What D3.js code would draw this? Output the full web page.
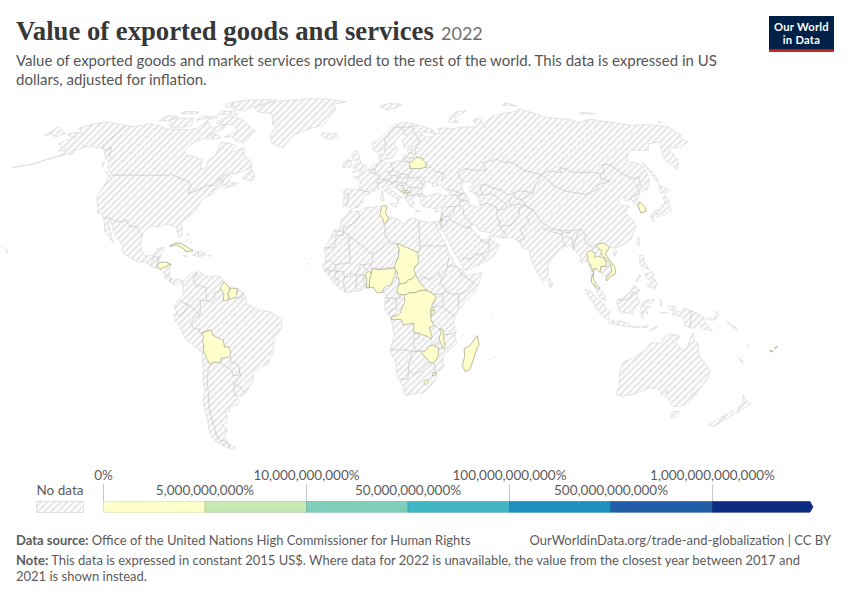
<!DOCTYPE html>
<html><head><meta charset="utf-8">
<script src="https://cdn.jsdelivr.net/npm/d3@7"></script>
<style>html,body{margin:0;background:#fff}svg{display:block}text{font-family:Lato,"Noto Sans",sans-serif}</style>
</head><body><svg id="c" width="850" height="600"></svg>
<script>
// ---- chart text ----
const titleText = "Value of exported goods and services";
const yearText = "2022";
const subtitleLines = ["Value of exported goods and market services provided to the rest of the world. This data is expressed in US","dollars, adjusted for inflation."];
const sourceLabel = "Data source:";
const sourceText = "Office of the United Nations High Commissioner for Human Rights";
const creditText = "OurWorldinData.org/trade-and-globalization | CC BY";
const noteLines = [["Note:"," This data is expressed in constant 2015 US$. Where data for 2022 is unavailable, the value from the closest year between 2017 and"],["","2021 is shown instead."]];

// ---- legend ----
const legendLabels = ["0%","5,000,000,000%","10,000,000,000%","50,000,000,000%","100,000,000,000%","500,000,000,000%","1,000,000,000,000%"];
const binColors = ["#ffffcc","#c7e9b4","#7fcdbb","#41b6c4","#1d91c0","#225ea8","#0c2c84"];

const dataCountries = ["Cuba","Honduras","Guyana","Suriname","Bolivia","Tunisia","Belarus","Kosovo","Montenegro","Palestine","Chad","Nigeria","Benin","Central African Republic","DR Congo","Burundi","Malawi","Zimbabwe","Eswatini","Lesotho","Madagascar","South Korea","Thailand","Vietnam","Fiji","Fiji"];
const dataBand = 0; // every coloured country sits in the first band of the legend
const dataRings = [
"-84.9,21.9 -82.5,23.1 -80,23 -77,21.6 -74.2,20.2 -77.7,19.9 -78,20.7 -80,21.8 -82,22.4",
"-88.3,15.7 -85.5,15.9 -83.2,15 -84.7,14.7 -85,14 -86.7,13.8 -87.3,13 -87.8,13.4 -89.3,14.4",
"-60,8.4 -57.2,6 -57.2,5.2 -58,4 -57.5,1.9 -59,1.3 -60,1.3 -59.8,4 -60.7,5.2 -61.4,5.9",
"-57.2,6 -54,5.9 -54.3,3.5 -54.7,2.4 -56,2 -57.5,1.9 -58,4 -57.2,5.2",
"-69.5,-11 -65.4,-9.8 -65,-11.8 -62,-13.2 -60.5,-13.8 -60.2,-16.3 -58.3,-16.3 -57.6,-18.2 -58.2,-20 -62.2,-20.6 -62.6,-22.2 -65.7,-22.1 -67.2,-22.8 -68.5,-20.5 -69.5,-17.5 -69,-16.2 -69.5,-14 -68.9,-12.5",
"9,37.2 9.8,37.3 11,37 10.2,34.3 11,33.2 11.5,32.4 10,30.4 9.5,30.2 9,32.2 7.5,33.7 8.3,35.5 8.5,36.9",
"23.6,51.6 23.9,52.7 23.4,54 25,54.2 26.6,55.7 28.2,56.1 30.9,55.6 31,54.7 32.7,53.4 31.5,53.1 31.7,52.1 28,51.6 24,51.7",
"20.1,42.6 20.9,43.2 21.7,42.6 21.1,42.1 20.5,42.1",
"18.5,42.5 18.9,43.3 19.5,43.2 20.1,42.8 19.7,42.5 19.3,41.9",
"35,32.5 35.5,32.4 35.5,31.5 34.9,31.4",
"15,23 24,19.5 24,15.7 22.5,14 22,12.7 22.8,11 21,9.5 19.2,9 18.5,8 15.5,7.5 15.5,9.9 14.2,10 14.9,10.9 15,12 14,13 13.5,14 15.3,17.5 15.9,20.4",
"2.7,6.3 4.5,6.3 6,4.3 8.5,4.5 8.7,5.7 10.5,7 11.8,6.9 13.7,10.9 14.2,12.5 14,13 13.6,13.7 10.5,13.3 7,13 4.2,13.5 3.6,11.7 2.8,9",
"1.6,6.2 2.7,6.3 2.8,9 3.6,11.7 2.3,12.4 0.9,11 1.6,9.5",
"14.5,5 15.5,7.5 18.5,8 19.2,9 21,9.5 22.8,11 24,8.7 27.4,5.1 25,5.2 22.5,4.3 20,4.3 18.6,3.5 16.5,3.5 15,4",
"12.2,-6 13,-5.8 16.5,-5.9 17.5,-7.9 21.8,-7.3 22,-11 24,-11 25.5,-11.7 28,-12.3 29.7,-13.4 29.8,-12.2 28.5,-9 30.7,-8.2 29.2,-6 29.2,-3.5 28.9,-2.4 29.6,-1.4 29.7,0 30.8,1.5 31.2,2.4 30.8,3.5 29,4.4 27.4,5.1 25,5.2 22.5,4.3 20,4.3 18.6,3.5 17.7,3.6 18,1 17,-1 16,-3.5 15,-4.3 13,-4.7 12.2,-5",
"29,-2.7 30.5,-2.4 30.8,-3.3 29.4,-4.4",
"33,-9.5 34.3,-9.5 34.9,-11.6 34.6,-12 35.2,-14.5 35.8,-16 35.2,-17 34.3,-15.8 33.3,-14 33,-12.5 33.8,-11",
"25.3,-17.8 27,-17.9 29,-15.8 30.4,-15.7 32.9,-16.7 32.8,-20 31.3,-22.4 29.4,-22.2 27.8,-20.5 26,-19.2",
"31,-25.8 32,-26 32,-27 31,-27.3 30.7,-26.6",
"27,-29.6 28.5,-28.6 29.4,-29.5 28,-30.6",
"49.3,-12 50.4,-15.5 49.5,-17 47.2,-24.8 45.2,-25.6 43.7,-23.5 44.4,-20 44,-17 46.5,-15.7",
"126.7,37.8 126.5,37.3 126.3,34.5 129,35.2 129.4,37 128.4,38.6",
"100.1,20.3 100.5,19.5 101.2,19.5 101,17.5 102.1,18.2 104.7,17.5 105.6,15.7 105.2,14.3 103,14.2 102.5,12 100.9,13.5 100,13.4 99.2,10 100.5,7 102,6.2 101,5.7 100,6.5 98.3,8.3 98.6,10 99.6,11.8 98.4,15.5 97.5,16.5 98,18 97.5,18.5 98,19.8",
"102.2,22.4 105.5,23.2 108,21.6 105.7,19 109,14 109.2,11.6 106.7,10.4 105,8.7 105,10 106.2,11 107.5,12.3 107.5,14.7 106.5,16.5 104.2,18.5 103.9,19.3 104.5,20.4 102.9,21",
"177.3,-17.6 178.6,-17.8 178.2,-18.2 177.3,-18",
"178.7,-16.8 180,-16 179.5,-16.7"
];

// ---- land outlines, lon,lat ----
const landRings = [
// North and Central America
"-141,69.6 -148,70.4 -156.5,71.3 -162,70 -166.5,68.4 -163,67 -161.5,66.3 -165,66.5 -168,65.6 -164,64.6 -161,64.5 -165,63 -166,61.6 -162,59.9 -162,58.7 -157.5,58.8 -158,57 -164.5,54.7 -160,55.8 -156,57.3 -153.5,59 -151.8,59.3 -150,60 -148,60.8 -146,60.8 -144,60 -140,59.8 -137,58.5 -135,57 -133,55.5 -130.5,54.7 -128,52 -125,50 -122.8,49 -124.5,48.3 -124,46 -124.3,43 -124.2,40.4 -122.5,37.8 -120.6,34.5 -118.4,34 -117.1,32.5 -115.8,30.5 -114.9,27.8 -112.5,26 -109.7,23 -110.5,24.5 -112.8,28.5 -114.7,31.5 -113,31.2 -111,28 -109.3,25.7 -106.5,23.2 -105.3,21.5 -105.5,20 -103.5,18.5 -100,17 -96.5,15.7 -94.5,16.2 -92.2,14.5 -90,13.7 -87.5,13 -85.7,11 -85.7,10 -84,9.3 -83,8.2 -81.5,7.5 -80,7.3 -79,9 -77.8,7.2 -77.3,8.6 -79.5,9.6 -81.5,9 -83,10 -83.7,11 -83.5,14 -83.2,15 -85.5,15.9 -88.3,15.7 -88.3,18.4 -87.5,20 -87,21.5 -90.3,21 -90.7,19.3 -92,18.6 -94.5,18.2 -96,19 -97.5,22 -97.7,25.9 -97.2,27.8 -94.5,29.5 -90,29.2 -89.2,30.3 -85,29.7 -83,29 -82.7,27.7 -81.2,25.2 -80.1,25.8 -80.5,28.2 -81.4,30.6 -79.2,33 -75.6,35.2 -76.2,37 -75.2,38.2 -74,40.5 -70,41.6 -70.7,43 -67,44.8 -64.5,45.2 -66,43.7 -61,45.3 -60,46.3 -61.5,45.9 -64.5,46.3 -65,47.8 -64.3,48.6 -67.5,49.2 -71,46.9 -67,49.3 -60,50.2 -57,51.5 -55.7,52.5 -58,54.8 -61.5,56.5 -64.5,60.3 -68,58.5 -70,58.8 -69,60.8 -72,61.6 -78,62.4 -77.7,60 -77,57 -79.5,54.8 -78.8,52 -80.5,51.3 -82.3,52.9 -82.3,55.1 -88,56.5 -92.5,57 -94.7,58.8 -94.5,60.5 -92,62.8 -88,64 -87,65.3 -85.5,66.5 -81.5,68.5 -82,69.8 -85,69.8 -88,68.5 -92,70 -95,71.9 -96.5,68.5 -101,67.8 -108,68 -115,68 -120,69.5 -125,70 -128,70.5 -135,69",
// Arctic Canada
"-65,62 -70,62.8 -74,64.5 -78,64.5 -73.5,66.5 -73,68 -78,70 -85,70 -89,71 -85,73.7 -80,73.7 -76,72.8 -70,70.7 -67,69 -62,67 -64,65",
"-105,73 -117,73 -118,71.5 -113,68.7 -105,69 -102,69.7",
"-125,72 -123,74.3 -116,73.8 -119,71.7",
"-62,82.5 -70,83 -85,82.5 -92,81.2 -88,79 -85,77 -78,76.5 -76,78 -70,80",
"-80,74.6 -92,74.7 -92,76.5 -82,76",
"-92,81 -88,79.5 -87,78.5 -93,78.5 -95,80.5",
"-106,75 -117,75.2 -115,76.4 -106,76",
"-90.5,73.5 -95,72 -96,73.5 -92,74",
"-96,73 -102,72 -101,74 -97,74",
"-80,64 -87,63.5 -86,66 -81,65",
"-59.3,47.7 -53,46.7 -53,48.5 -55.6,51.5",
"-128,50.7 -123.5,48.4 -125,48.8",
"-132.8,54 -131.7,54 -131.2,52.2",
"-154.5,57.5 -152.5,58.2 -153,57",
"-64.5,49.9 -62,49.2 -63,49.3",
"-164,54.6 -168,53.4 -176,52 -168,53.2",
// Greenland, Iceland, Arctic islands
"-73,78.2 -68,76 -58,75 -54,70 -51,69 -53,66 -50,62 -45,60 -43,60 -40,65 -32,68 -23,70 -22,72 -20,75 -18,77 -20,80 -12,81.5 -25,83.2 -40,83.5 -60,82 -65,81",
"-24,65.5 -22,64 -18.5,63.4 -14,64.5 -15,66.2 -20,66 -22.5,66.4",
"11,79 16,77 22,78 27,80 18,80.5",
"52,71 58,71 57,73 68,76.8 60,76 54,73.5",
"95,79.5 105,79 100,81",
"138,75 148,75 142,76",
"178.5,71 180,71.3 180,70.9",
"-180,69 -175,67.5 -170,66 -172.5,64.5 -176,65.3 -178,65.7 -180,65",
// Caribbean
"-84.9,21.9 -82.5,23.1 -80,23 -77,21.6 -74.2,20.2 -77.7,19.9 -78,20.7 -80,21.8 -82,22.4",
"-74.4,18.5 -73,19.9 -70,19.8 -68.4,18.6 -71,18",
"-78.3,18.3 -76.3,18.2 -77,17.8",
"-67.2,18.5 -65.7,18.4 -67,18",
"-78,26.7 -77,26.5 -77.3,26","-78,24.7 -77.4,24.3 -77.6,23.8","-75.8,23.7 -75,22.9 -75.3,23",
"-155.9,20.2 -155,19.7 -155.7,19","-156.7,21 -156,20.8 -156.5,20.6","-158.2,21.6 -157.7,21.4 -158,21.3",
// South America
"-77.3,8.6 -75.6,10.6 -74,11.3 -71.5,12.4 -71.3,11 -71.9,10.2 -70,12 -68,10.6 -64,10.5 -62,10.7 -60,8.5 -57,6 -54,5.9 -51.5,4.4 -50,1.7 -50,0 -48,-0.7 -44,-2.6 -40,-2.8 -37,-4.8 -35,-5.5 -35,-9 -38.5,-13 -39,-17.5 -40.8,-21 -42,-23 -46,-24 -48.7,-26 -48.7,-28.5 -52,-32.5 -53.4,-34 -55,-35 -57.5,-34.7 -58.4,-34 -57,-36.5 -58,-38.4 -62,-39 -62.3,-40.8 -65,-41 -63.8,-42.6 -65.3,-45 -67.5,-46 -66,-48 -69,-50.5 -68.4,-52.3 -71,-53.8 -74,-52.5 -75.5,-49 -74,-44 -73.7,-41 -73.5,-37 -71.5,-33 -71.5,-29 -70.5,-25 -70.2,-18.4 -71.5,-17.3 -76,-14 -77.5,-12 -79,-8 -81.2,-6 -81.3,-4.3 -80,-3 -81,-1 -80,0.8 -78.8,1.5 -77.2,3.9 -77.5,6 -77.8,7.2",
"-68.6,-52.7 -65.2,-54.9 -68.5,-55.3 -72,-54",
// Africa
"-5.9,35.8 -5,35.2 -2,35.1 1,36.5 5,36.8 9.8,37.3 11,37 10.2,34.3 11,33.2 15.3,32.3 19,30.3 20,32 23,32.7 25,31.7 29,31 32.3,31.2 32.6,29.9 33.8,27.5 35.5,24 37,21 37.3,19 38.6,18 39.5,15.5 43.2,12.5 44.5,10.5 47,11.2 51.2,11.9 50.8,9.5 48,4.5 44,1 41.5,-1.7 39.5,-4.5 39,-6.5 39.5,-10 40.6,-15 37,-17.8 34.9,-20 35.5,-24 32.8,-26 32.5,-28.5 30.5,-31 27,-33.8 22,-34.2 20,-34.8 18.4,-34 18.2,-31.7 15,-27 14.4,-22.5 11.8,-17.5 13.5,-12 12.2,-6 9.5,-2.5 9.3,0 9.7,3.5 8.5,4.5 6,4.3 4.5,6.3 1,5.8 -2,4.8 -7.5,4.4 -9.5,5.6 -13.3,8.5 -15,11 -16.8,13 -17.5,14.7 -16.3,16.5 -16.3,19.5 -17,21 -14.9,24 -13,27.8 -10,29.6 -9.7,32 -6.8,34",
"49.3,-12 50.4,-15.5 49.5,-17 47.2,-24.8 45.2,-25.6 43.7,-23.5 44.4,-20 44,-17 46.5,-15.7",
"-24,15.3 -23.4,15.2 -23.6,14.9","-25.2,17.1 -24.9,16.9 -25.1,16.8","55.3,-4.5 55.6,-4.7 55.4,-4.8","57.4,-20 57.8,-20.2 57.5,-20.5","55.3,-21 55.7,-21.1 55.5,-21.3","43.3,-11.4 43.5,-11.8 43.2,-11.8",
// Eurasia
"-9,37 -8.9,38.4 -9.5,38.8 -8.8,41 -9.2,43 -8,43.7 -1.8,43.4 -1.2,46 -2.5,47.3 -4.7,48.3 -1.6,48.7 -1.6,49.7 1.5,50.5 3.5,51.4 4.5,52.5 6.5,53.4 8.6,53.8 8.2,55.5 8.2,57 10.6,57.7 10.3,56 9.8,54.8 11,54 14.2,53.9 18.5,54.7 21,55.2 21,57 24,57.2 23.5,59.2 28,59.5 30,60 25,60.2 22,60.3 21.4,63 25.5,65.2 22,65.8 17.5,62.5 17,60.8 18.8,59.8 16.5,57 14.5,55.5 12.9,55.5 11.3,58.5 10.5,59.4 8,58.1 5.3,59 5.2,62 10,64 14.5,67.5 19,70 25.7,71.1 31,70.3 41,67.7 41,66.5 33,66.6 35,64.4 40,64.7 40,66 44,66.2 44,68.5 54,68.3 60,69 65,69 68,69 67,71.5 70,73 72.7,72.7 72,68.5 74,71 80,73.5 87,75 100,76.3 104,77.7 113,74 113,73.6 127,72.4 130,71 140,72.5 160,69.7 170,70 180,69 180,65 177.5,64.7 179,62.5 170,60 163.5,60 163,57.8 162,55 156.7,51 155.6,56 159,59 163.5,62.5 156,61.7 152,59 142,59 135,54.7 141,53.2 140,48 135,43.5 132,43 130.7,42.3 127.5,39.8 129.4,37 129,35.2 126.3,34.5 126.5,37.3 125,38 125,39.7 121.5,39 122,40.5 118,39 119,37.3 122.5,37.2 119.3,35 121.8,31 121.8,29 118,24.5 114,22.3 110.5,21.2 108,21.6 105.7,19 109,14 109.2,11.6 106.7,10.4 105,8.7 105,10 102.5,12 100.9,13.5 100,13.4 99.2,10 100.5,7 103.4,4 104.2,1.4 103.5,1.3 101,3 100,6 98.3,8.3 98.6,12 97.5,16.5 95.5,15.8 94.3,16 94.5,18 92,21 91,22.5 89,21.8 87,21.4 85,19.7 80.3,15.5 80,12 79.8,10.3 77.6,8 75.5,11.5 73,17 72.8,20.5 72,21 70.5,20.8 69,22.3 70,22.8 67.5,23.8 66.7,25.3 61.5,25.1 57.3,25.7 56.8,27 52,27.6 50.1,30.2 48,30 48.3,28.7 50,26.7 50.7,25 51.3,26.1 51.6,24.5 54.5,24.2 56.3,26.2 56.6,24.4 59.8,22.5 57.7,19 55,17 52,15.6 45,12.8 43.5,12.7 42.8,15 39,21 36.8,25.8 35,28 35,29.5 34.3,27.8 33.2,28.5 32.6,29.9 32.3,31.2 34.3,31.3 35,32.8 36,36 36,36.8 33,36.1 30.5,36.5 27.5,37 26.3,39.3 27,40.5 29,41 31.4,41.2 35,42 38,41 41.5,41.5 39,43.7 37,45 38.5,47 35,46 36.5,45.2 33.5,44.5 33,46 30.7,46.5 28.7,44.5 27.7,42.5 29,41.3 26.5,40.8 24,40.8 23,40.3 24,38 23,36.5 21.7,36.8 21,38.5 19.5,40.5 19.5,42 16,43.5 13.6,45 12.3,45.2 12.5,44 16,41.8 18.5,40.2 17,40.5 16.6,38.8 16,38 15.7,40 12.5,41.4 10.5,43 8.7,44.4 6,43 3.2,43.2 3.2,41.9 0.5,40.7 -0.3,39 0,38.7 -0.8,37.6 -2,36.8 -5.3,36.1 -6.4,36.8 -7.4,37.2",
// Europe islands
"-5.5,50 -1,50.7 1.3,51.2 1.7,52.7 0,53 -1.5,55 -2,56 -2,57.6 -4,57.7 -3.1,58.6 -5,58.6 -6,56.5 -4.8,55 -3,54.9 -3,53.4 -4.5,53.2 -5,51.8 -3,51.4",
"-10,52 -6.3,52.2 -6,53.5 -5.6,54.7 -7.5,55.3 -10,54",
"11,55.7 12.5,55.7 12,54.9",
"12.5,38 15.6,38.2 15.2,36.7","8.2,41 9.7,41 9.6,39.2 8.5,39","8.6,42.5 9.4,43 9.4,41.5 9,41.5","23.6,35.5 26.3,35.2 24.8,34.9","32.3,35 34.5,35.6 33.7,34.8",
// Asia islands
"79.8,8 80.2,9.8 81.8,7.5 80.6,5.9",
"121,25 122,25 121,22 120.2,23",
"108.7,19.2 110.5,20.1 111,19.6 109.7,18.2",
"130.9,34 132.5,35.5 136,36 137.5,37.3 139.5,38.3 140,40 141.3,41.4 142,39.5 141,37 140.7,35.5 139,34.9 135.8,33.5 135,34.6 132.5,34.2",
"130,33.5 131.5,33.5 131,31.3 130.2,31.3",
"132.5,33.8 134.6,34.2 134,33.3 133,32.8",
"140,41.6 141,43.2 141.8,45.4 145.3,43.3 143.2,42 141,42.5",
"142.6,54.3 143.5,49 142.5,46 142,47 142,52",
"120.5,18.5 122.2,18.5 122,16 124,13 121.5,13.9 120,14.7 120.2,16",
"122,7 125.5,5.8 126.5,7.5 125.5,9.8 123.5,8.5",
"117.2,8.4 119.5,11.3 119.7,10.5 118,8.4",
"122,11.7 123.2,11.5 125,12.5 125.5,11 124.5,10 123,9.2 122,10.5",
"109,1.5 111,1.8 113,3.2 115,5 116.8,7 119,5.2 117.7,4.1 117.8,2 119,1 116.5,-1.8 116,-4 113,-3.3 110.2,-2.9 109,0",
"95.3,5.6 97.5,5.2 100.5,2.2 103.5,0 104.5,-2 106,-3 105.8,-5.8 104.5,-5.8 101,-2.8 99,0 97,2.5",
"105.3,-6.8 106.7,-6 108.5,-6.6 110.8,-6.4 114.5,-7.7 114.4,-8.7 110,-8 106.5,-7.4",
"115,-8.2 115.7,-8.4 115.2,-8.8","116,-8.7 119,-8.4 119,-8.8 116.8,-9.1","119.9,-8.6 123,-8.2 122.5,-8.8 120,-8.9","123.6,-10.3 125,-9 127.3,-8.4 125,-9.7",
"120,-5.5 119.5,-3.3 118.9,-2.8 119.8,0.3 120.8,1.3 125,1.7 124,0.4 120.8,0.4 120.2,-1 123.3,-0.9 121.5,-1.9 122.5,-4 121,-2.8 120.4,-3 120.4,-5.5",
"127.7,2 128.5,0 127.8,-0.8","127.9,-3.2 130.8,-3.2 129,-3.5",
// Oceania
"131,-0.8 134,-0.8 135,-3.3 137.8,-1.5 141,-2.6 144.5,-3.9 147.8,-6 147,-6.8 150.8,-10.3 147,-9.5 144,-7.7 143,-9.2 141,-9.1 138.5,-8.2 138,-5.5 135,-4.4 133,-4 132.8,-2.8 134,-2.4 132,-2.3",
"148.3,-5.6 150.8,-5.5 152.2,-4.2 152,-5.5 150,-6.3",
"150.8,-2.7 152.8,-4 152,-3.4",
"156.5,-6.8 159,-8 161,-9.5 159,-8.6","160,-8.6 161.3,-9.8 160.8,-9.6",
"166.7,-15 167.2,-15.7 167,-16.3","164,-20 167,-22.3 166,-22.1",
"114,-22 113.5,-26 115,-31 115,-34.3 118,-35 123.5,-34 129,-31.7 134,-32.5 135.7,-34.8 137.8,-32.8 137.5,-35.2 139.7,-36 143.5,-38.8 146.3,-39 150,-37.5 151.5,-33 153.5,-28 153,-25 149.5,-22 146.3,-19 145.3,-15 143.5,-14 142.6,-10.8 141.5,-13 141,-16 139.5,-17.5 135.5,-15 136.8,-12.2 132.5,-11.3 130,-13 129,-15 125,-14.5 122.2,-18 119,-20",
"144.7,-40.7 148.3,-40.9 148,-43 146.3,-43.5 145.3,-42",
"172.7,-34.4 175.5,-36.6 178.5,-37.7 177,-39.5 175.3,-41.6 174.8,-39.9 173.8,-39.3 174.8,-38 174.3,-36.5",
"172.7,-40.5 174.3,-41.7 171,-45 170,-46.5 166.7,-46 168,-44.2 171,-42"
];
const waterRings = ["47,45.5 49,46.4 53,46.8 53,45 51,44.5 50.3,43 52.7,42 53,41.5 53.8,40 54,37.2 52,36.7 49,37.6 49.2,40 47.5,43"];

// ---- borders, lon,lat ----
const borderLines = [
"-122.8,49 -95.2,49 -95,49.4 -89.5,48 -84.5,46.5 -82.5,45.3 -82.5,42 -79,42.8 -79,43.3 -76.5,44 -75,45 -71.5,45 -69.3,47.4 -67.8,47 -67.5,45.2",
"-141,69.6 -141,60.3 -137,59 -135,60 -133,57 -130,55.5",
"-117.1,32.5 -114.7,32.7 -111,31.3 -108.2,31.3 -106.5,31.8 -104.5,29.7 -102.8,29.3 -101,29.5 -99.5,27.5 -97.2,25.9",
"-92.2,14.6 -91,17.2 -91,17.8 -89.1,17.8 -88.3,18.4","-89.1,17.8 -89.2,15.9 -88.3,15.7","-89.2,15.9 -89.3,14.4 -90,13.7","-85.7,11.1 -83.7,10.9","-83,9.9 -83,8.2",
"-71.7,19.8 -71.7,18.1",
"-71.5,12.4 -72.5,11 -73,9 -72,7 -70,6.8 -67.5,6.2 -67.5,3.8 -67,1.2","-67,1.2 -70,1.5 -69.8,-0.5 -70,-4.2","-70,-4.2 -72,-2.5 -75.2,-0.1 -77,0.4 -78.8,1.5","-75.2,-0.1 -75.5,-1.5 -78.5,-4.5 -80.3,-3.4","-70,-4.2 -73,-5.5 -74,-7.5 -73,-9.4 -70.5,-9.5 -70.5,-11 -69.5,-11",
"-69.5,-17.5 -70.4,-18.4","-67.2,-22.8 -68.3,-25 -69.6,-30 -70.3,-35 -71.5,-39.5 -71.8,-45 -72.5,-50 -72,-52 -68.4,-52.3","-68.6,-52.7 -68.6,-54.9",
"-57.9,-20 -58,-22 -55.7,-22.4 -54.3,-24 -54.6,-25.6 -55,-27 -58,-27.2 -57.7,-25.3 -60,-24 -62.6,-22.2","-58.4,-34 -58.2,-32 -57.7,-30.2 -55.7,-30.9 -53.4,-33.8","-57.7,-30.2 -54,-27.3 -54.6,-25.6",
"-65.4,-9.8 -70.5,-11","-60.2,-16.3 -58.3,-16.3","-54.7,2.4 -52,2.3 -51.5,4.4","-54,5.9 -54.3,3.5","-67,1.2 -65.5,0.8 -63.5,2 -64,4 -60.7,5.2",
"-8.8,41.9 -6.5,41.7 -7,39.5 -7.4,37.2","-1.8,43.4 3.2,42.4","2.5,51 4.2,50 6,49.5 8.2,49 7.6,47.6 6.1,46.2 7,45.9 7,44.2 7.5,43.8","3.5,51.4 6,51.2 6.1,50.8 6,49.5","6,51.2 6,51.8 7,52.3 7.2,53.3","8.7,54.9 9.8,54.8","14.2,53.9 14.7,52 15,51 12.2,50.3 13.8,48.7 13,47.5 9.6,47.5 7.6,47.6","7,45.9 8.5,46 10.4,46.8 9.6,47.5","10.4,46.8 12.3,47 13.7,46.5 13.6,45.6","13.8,48.7 15,49 17,48.7 17,48 16.1,46.8 13.7,46.5","15,51 18.8,49.5 17,48.7","18.8,49.5 22.5,49.1 24,50.7 23.6,51.6","19.5,54.4 22.8,54.4 22,55.1 21,55.2","22.8,54.4 23.4,54","21,56.1 26.6,55.7","24.3,57.9 27.5,57.6 28,59.5","27.5,57.6 28.2,56.1","31.7,52.1 34,52.3 35.5,50.5 40,49.7 38.3,47.2","22.2,48.3 24.9,47.8 26.6,48.3 29.2,48 30,46.5 28.2,45.5 29.2,45.4","26.6,48.3 28.2,45.5","17,48 18.8,47.9 22.2,48.3 22.5,49.1","22.2,48.3 21,46.2 18.8,45.9 16.4,46.5 16.1,46.8","21,46.2 20.3,46 21.5,44.8 22.7,44.2 27,44.1 28.7,43.8","13.6,45.5 16.4,46.5","18.8,45.9 19.4,45 16,45.2 15.8,44.5 17.5,43 18.6,42.5","19.4,45 19.3,43.5 18.9,43.3","22.7,44.2 22.4,43 22.5,42.2 23,41.3 20.9,40.9 19.4,40","23,41.3 26.3,41.7 26,40.8","26.3,41.7 28,42","20.9,40.9 20.5,42.1 19.7,42.5","20.5,42.1 22.4,42.3","20.9,43.2 19.5,43.2",
"11.3,59 12.3,61 12,63.5 14,64.5 16,67 18,68.6 20.5,69 23.5,67.9 23.9,66","20.6,69 25,68.8 28.9,69 29.5,66.5 31.5,62.5 28,60.5","28.9,69 30.9,69.8",
"40,43.5 43,43 46.5,41.8 48.5,41.8","41.5,41.5 43.5,41.1 45,41.2 46.5,39.5 46.5,38.9 44.8,39.7 43.5,41.1","45,41.2 46.5,41.8","46.5,38.9 48,39.5 48.9,38.4","44.8,39.7 44.8,37.2 42.4,37.1 38,36.8 36.7,36.3 36,36","42.4,37.1 41,34.5 38.8,33.4","35.9,34.6 36.6,34.2 35.8,33.3 35.1,33.1","35.8,32.7 38.8,33.4 39.2,32.1 44.7,29.2 46.5,29.1 48,29.5","46.5,29.1 47.7,28.5 48.4,28.5","39.2,32.1 37,31.5 38,30.5 36,29.2 35,29.4","34.3,31.3 35,29.5","35.6,32.7 35.5,31 35,29.5",
"44.8,37.2 46,35.7 45.5,34 48,30.9 48.5,30","61.2,35.6 60.9,34 60.5,33.7 60.9,31.5 61.7,31.4 60.9,29.8 61.7,28 63.2,27 61.5,25.1","54,37.4 57,38.2 61.2,36.6 61.2,35.6","42.8,16.4 44,17.4 47,17 49,18.6 52,19 53,16.6","52,19 55,20 55.6,22 55.2,22.7 51.6,24.3","55.2,22.7 55.8,24.2 56.3,25",
"49,46.4 47,48.3 47,50 51,51.6 55,51 58,51 61.5,51 61,54 69,55.3 71,54.2 76.5,54 80,51 85.5,49.6 87.3,49.2 87.8,49.2 92,50.7 98,50 98.8,52 102,51.3 102.3,50.5 107,50 114,50.2 117,49.6 119.5,50 121,53.3 125,53.2 127.5,49.8 131,47.7 135,48.4 133,45 131,44.9 130.7,42.4 128,41.4 124.4,40","87.8,49.2 91,46 91,45 96,42.8 105,41.6 111.5,43.5 112,45 116,46 119.8,46.7 115.8,47.8 117,49.6","126.7,37.8 128.4,38.6",
"87.3,49.2 85.5,47.2 82.5,45.3 80.2,42.2 74.5,43 70.9,42.2 68,41 66,43 61,44.3 58.6,45.6 56,45 56,41.3 53,42","56,41.3 60,41.9 61.9,41 66.5,37.4 64.5,36 61.2,35.6","70.9,42.2 71,40.2 73.7,39.5 80.2,42.2","70,41 68,39 67.8,37.2 71.5,38 74.9,37.3 73.7,39.5","74.9,37.3 71.5,36.5 71,34 69.5,33 66.5,30 62,29.5 60.9,29.8","74.9,37 77.8,35.5 74,33 74.6,31 70,28 71,25 68.2,23.7","74.9,37.3 77.8,35.5 79,32.5 81,30.2 84,28.5 88,27.9 92,27.8 97,28.2 98.7,25.8 97.5,23.8 99.5,22 101.2,21.5 102.2,22.4","80.2,28.7 84,27.4 88.1,26.4 88.1,27.9","89,27.2 92,26.9 92,27.8","88,26.4 88,24.5 88.8,21.8","89.8,25.3 92.3,24.8 92,21","97,28.2 95,26.5 93.5,24 92.6,22 92.3,20.8","100.1,20.3 101.2,21.5","103,14.2 105.2,14.3","105.2,14.3 107.5,14.7",
"109.6,2 112,1.4 115,2.5 115.8,4.5 117.7,4.2","141,-2.6 141,-9.1","-7.4,55 -6.2,54.1",
"-2,35.1 -1.7,33 -3.7,30.8 -8.7,28.7 -8.7,27.3","-13,27.7 -8.7,27.7 -8.7,26 -12,26 -12,23.5 -13,21.3 -17,21.3","-8.7,27.3 -4.8,25 1.2,21 3.3,19 4.2,19.2 5.8,19.5 12,23.5 9.7,26 9.9,30","25,31.7 25,22 36.8,22","12,23.5 14.2,22.6 15,23","24,19.5 24,20 25,20 25,22","11.5,32.4 10,30.4",
"-4.8,25 -6.5,25 -5.5,15.5 -12,15 -12.2,14.8","-16.4,16.2 -14,16.5 -12.2,14.8 -11.5,12.4 -8.5,12.3 -8,10.2 -5.5,10.4 -5.3,11.8 -3,11 -1,15 0.2,14.9 3.3,15.3 4.2,16.5 4.2,19.2","-15,11 -13.7,12.7 -11.5,12.4 -12.3,9.9 -13.3,9","-16.8,12.4 -13.7,12.7","-16.7,13.5 -14,13.5","-11.5,6.9 -10.7,8.5 -10.5,9.4 -12.3,9.9","-7.5,4.4 -8.4,7.7 -8,10.2","-3,5 -2.8,9.5 -3,11 0,11 0.9,11","1.2,6.1 0.5,8 0,11","0.9,11 2.3,12.4 1,13.3 0.2,14.9","3.3,15.3 3.6,11.7","4.2,13.5 13.6,13.7 15.3,17.5 15.9,20.4 15,23",
"14.5,5 15,4 16,2.2 13,2.2 9.8,2.3","13,2.2 14.5,1.4 14.3,-2 12,-2.2 11,-3.9","9.8,2.3 11.3,2.2 11.3,1 9.5,1","16,2.2 16.5,3.5","12.2,-4.7 13,-4.7",
"24,8.7 26,10.5 28,9.4 30,9.7 33,12 33.1,10.7 34.1,9.5","27.4,5.1 30.8,3.5 33.9,4 35.9,4.6 34.5,7 33.1,7.8 34.1,9.5 36,12.5 36.5,14.3 37.5,17.9","36.5,14.3 40,14.5 42.3,12.5","42.3,12.5 42,11 43.2,11.5","43,11 48,8 45,5 42,4 39,3.5 35.9,4.6","41,3.9 41,-1.7","30.8,1.5 31,-1 33.9,-1 34.5,1 33.9,4","33.9,-1 37.7,-3.4 39.2,-4.7","30.5,-1 30.5,-2.4","29,-1.5 30.5,-1","30.8,-3.3 29.4,-4.4","33,-9.5 30.7,-8.2","34.9,-11.6 38,-11.5 40.4,-10.4","30.4,-15.7 33.3,-14","22,-11 24,-11 24,-13 22,-13 22,-16.2 23.4,-17.6 25.3,-17.8","11.8,-17.3 14,-17.4 18.5,-17.4 21.4,-18 23.4,-17.6","25.3,-17.8 21,-18.3 21,-22 20,-22 20,-28.4 17,-28.5 16.4,-28.6","20,-25 22,-26.5 25.5,-25.7 27.3,-23.5 29.4,-22.2","31.3,-22.4 32,-25.8 32.8,-26.9","32.9,-16.7 35.2,-17"
];

// ---- Robinson projection through d3 scales ----
const robLat = [0,5,10,15,20,25,30,35,40,45,50,55,60,65,70,75,80,85,90];
const robLen = [1,.9986,.9954,.99,.9822,.973,.96,.9427,.9216,.8962,.8679,.835,.7986,.7597,.7186,.6732,.6213,.5722,.5322];
const robDepth = [0,.062,.124,.186,.248,.31,.372,.434,.4958,.5571,.6176,.6769,.7346,.7903,.8435,.8936,.9394,.9761,1];
const lenScale = d3.scaleLinear().domain(robLat).range(robLen);
const depthScale = d3.scaleLinear().domain(robLat).range(robDepth);
const xMap = d3.scaleLinear().domain([-180,180]).range([363-419.4,363+419.4]);
const yMap = d3.scaleLinear().domain([-1,1]).range([304+212.7,304-212.7]);
const robinson = d3.geoTransform({point(lon,lat){
  const a=Math.abs(lat);
  this.stream.point(363+(xMap(lon)-363)*lenScale(a), yMap(Math.sign(lat)*depthScale(a)));
}});
const geoPath = d3.geoPath(robinson);
const ring = s=>{const r=s.trim().split(/\s+/).map(p=>p.split(",").map(Number));r.push(r[0]);return {type:"Polygon",coordinates:[r]};};
const line = s=>({type:"LineString",coordinates:s.trim().split(/\s+/).map(p=>p.split(",").map(Number))});

const svg = d3.select("#c");
const defs = svg.append("defs");
const pat = defs.append("pattern").attr("id","noData").attr("patternUnits","userSpaceOnUse").attr("width",4.7).attr("height",4.7).attr("patternTransform","rotate(-45 2 2)");
pat.append("path").attr("d","M-1,2.35 l7,0").attr("stroke","#e2e2e2").attr("stroke-width",2);

// ---- map ----
const map = svg.append("g");
map.selectAll("path.land").data(landRings.map(ring)).join("path").attr("class","land").attr("d",geoPath)
  .attr("fill","url(#noData)").attr("stroke","#dadada").attr("stroke-width",.7).attr("stroke-linejoin","round");
map.selectAll("path.water").data(waterRings.map(ring)).join("path").attr("class","water").attr("d",geoPath)
  .attr("fill","#fff").attr("stroke","#d0d0d0").attr("stroke-width",.6);
map.selectAll("path.border").data(borderLines.map(line)).join("path").attr("class","border").attr("d",geoPath)
  .attr("fill","none").attr("stroke","#c6c6c6").attr("stroke-width",.7).attr("stroke-linejoin","round");
map.selectAll("path.data").data(dataRings.map(ring)).join("path").attr("class","data").attr("d",geoPath)
  .attr("fill",binColors[dataBand]).attr("stroke","#a5a58c").attr("stroke-width",.7).attr("stroke-linejoin","round")
  .append("title").text((d,i)=>dataCountries[i]);

// ---- titles ----
svg.append("text").attr("x",16).attr("y",40)
  .style("font-family",'"Liberation Serif",serif').style("font-weight",700).style("font-size","26.7px").attr("fill","#373737").text(titleText);
svg.append("text").attr("x",441).attr("y",40).style("font-size","18px").attr("fill","#6e6e6e").text(yearText);
svg.selectAll("text.sub").data(subtitleLines).join("text").attr("class","sub").attr("x",16).attr("y",(d,i)=>66+i*19)
  .style("font-size","15px").attr("fill","#555").text(d=>d);

// ---- logo ----
svg.append("rect").attr("x",769).attr("y",16).attr("width",65).attr("height",36).attr("fill","#002147");
svg.append("rect").attr("x",769).attr("y",49.3).attr("width",65).attr("height",2.7).attr("fill","#ce261e");
[["Our World",30.5],["in Data",44]].forEach(([t,y])=>svg.append("text").attr("x",801.5).attr("y",y).attr("text-anchor","middle")
  .style("font-size","11.2px").style("letter-spacing",".25px").style("font-weight",700).attr("fill","#fff").text(t));

// ---- legend ----
const legendX = d3.scaleLinear().domain([0,7]).range([103.5,814]);
const legY=501.5, legH=10.8;
const legend = svg.append("g");
legendLabels.forEach((t,i)=>{ if(i%2===0) legend.append("line").attr("x1",legendX(i)).attr("x2",legendX(i)).attr("y1",484).attr("y2",legY).attr("stroke","#c8c8c8"); });
binColors.forEach((c,i)=>{
  const x0=legendX(i), x1=i===6?810:legendX(i+1);
  const tip = i===6?` L813,${legY+legH/2} L810,${legY+legH}`:` L${x1},${legY+legH}`;
  legend.append("path").attr("d",`M${x0},${legY} L${x1},${legY}${tip} L${x0},${legY+legH} Z`).attr("fill",c).attr("stroke",d3.color(c).darker(.5)).attr("stroke-width",.6);
});
legendLabels.forEach((t,i)=>legend.append("text").attr("x",legendX(i)).attr("y",i%2===0?480:494.5).attr("text-anchor","middle")
  .style("font-size","13.5px").attr("fill","#5b5b5b").text(t));
legend.append("text").attr("x",60).attr("y",494.5).attr("text-anchor","middle").style("font-size","13.5px").attr("fill","#5b5b5b").text("No data");
legend.append("rect").attr("x",36.5).attr("y",legY).attr("width",47).attr("height",legH).attr("fill","url(#noData)").attr("stroke","#cfcfcf").attr("stroke-width",.6);

// ---- footer ----
const foot = svg.append("g").style("font-size","13px").attr("fill","#5b5b5b");
const srcT = foot.append("text").attr("x",16).attr("y",545);
srcT.append("tspan").style("font-weight",700).text(sourceLabel);
srcT.append("tspan").text(" "+sourceText);
foot.append("text").attr("x",831).attr("y",545).attr("text-anchor","end").text(creditText);
noteLines.forEach(([b,t],i)=>{const n=foot.append("text").attr("x",16).attr("y",565+i*16);
  if(b) n.append("tspan").style("font-weight",700).text(b);
  n.append("tspan").text(t);});
</script></body></html>
